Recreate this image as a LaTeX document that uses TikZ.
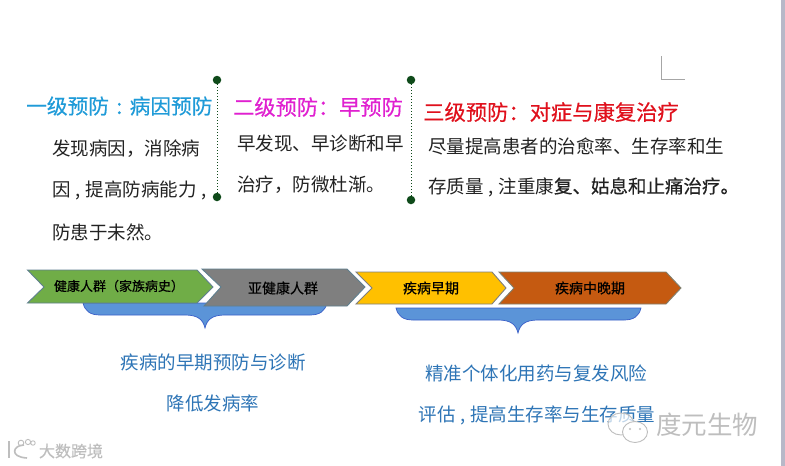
\documentclass[tikz,border=0pt]{standalone}
\usepackage{fontspec}
\setmainfont{Noto Sans CJK SC}
\newfontfamily\hf[FakeBold=0.45]{Noto Sans CJK SC}
\newcommand{\nc}{\makebox[.8em]{,}}
\newcommand{\ncolon}{\makebox[1em]{:}}
\definecolor{hblue}{HTML}{1F9BD8}
\definecolor{hmag}{HTML}{E020D0}
\definecolor{hred}{HTML}{E0101C}
\definecolor{bodyk}{HTML}{222222}
\definecolor{lblue}{HTML}{2E75B6}
\definecolor{dotg}{HTML}{0F4A1A}
\definecolor{brfill}{HTML}{5B94D8}
\definecolor{brline}{HTML}{3A5FC8}
\definecolor{wm}{HTML}{BEBEBE}
\definecolor{sidebar}{HTML}{B8B8C8}
\definecolor{cgreen}{HTML}{70AD47}
\definecolor{cgray}{HTML}{7F7F7F}
\definecolor{cyellow}{HTML}{FFC000}
\definecolor{cbrown}{HTML}{C55A11}
\definecolor{cedge}{HTML}{5F7F8F}
\definecolor{cedgeb}{HTML}{808070}
\tikzset{
 txt/.style={inner sep=0pt,anchor=west,text=bodyk,font=\fontsize{18.5}{20}\selectfont},
 head/.style={inner sep=0pt,anchor=west},
 bluetxt/.style={inner sep=0pt,text=lblue,font=\fontsize{18.5}{20}\selectfont},
 chev/.style={line width=.9pt,line join=miter},
 chevlab/.style={inner sep=0pt,text=black},
 pin/.style={circle,fill=dotg,inner sep=0pt,minimum size=8.5pt},
 dotline/.style={draw=dotg,line width=1pt,dotted},
 brace/.style={fill=brfill,draw=brline,line width=.7pt},
}
\begin{document}
\begin{tikzpicture}[x=1pt,y=-1pt]
\useasboundingbox (0,0) rectangle (785,466);
\fill[white] (0,0) rectangle (785,466);
\fill[sidebar] (781,0) rectangle (785,466);
% crop mark
\draw[gray!70,line width=.8pt] (661.5,56) -- (661.5,79.5) -- (685,79.5);
% pins and dotted rules
\node[pin] (p1) at (217,80) {};
\node[pin] (p2) at (217,197) {};
\node[pin] (p3) at (411,80) {};
\node[pin] (p4) at (411,200) {};
\draw[dotline] (p1) -- (p2);
\draw[dotline] (p3) -- (p4);
% headings
\node[head,text=hblue,font=\fontsize{20.7}{22}\selectfont\hf] (h1) at (26,106) {一级预防\ncolon 病因预防};
\node[head,text=hmag,font=\fontsize{21.2}{22}\selectfont\hf] (h2) at (233,107) {二级预防：早预防};
\node[head,text=hred,font=\fontsize{21.3}{22}\selectfont\hf] (h3) at (423,112) {三级预防：对症与康复治疗};
% body text
\node[txt] (a1) at (52,149) {发现病因，消除病};
\node[txt] (a2) at (52,190) {因\nc 提高防病能力\nc};
\node[txt] (a3) at (52,232) {防患于未然。};
\node[txt] (b1) at (237,143) {早发现、早诊断和早};
\node[txt] (b2) at (237,185) {治疗，防微杜渐。};
\node[txt] (c1) at (428,146) {尽量提高患者的治愈率、生存率和生};
\node[txt] (c2) at (428,187) {存质量\nc 注重康{\hf 复、姑息和止痛治疗。}};
% braces
\path[brace] (83,303) .. controls (85,311) and (90,315) .. (100,315) -- (185,315)
  .. controls (197,315) and (203,319) .. (205,328)
  .. controls (207,319) and (213,315) .. (225,315) -- (310,315)
  .. controls (320,315) and (325,311) .. (327,303) -- cycle;
\path[brace] (396,308) .. controls (398,316) and (403,320) .. (413,320) -- (498,320)
  .. controls (510,320) and (516,324) .. (518,333)
  .. controls (520,324) and (526,320) .. (538,320) -- (624,320)
  .. controls (634,320) and (639,316) .. (641,308) -- cycle;
% chevrons
\draw[chev,fill=cgreen,draw=cedge] (27.5,270) -- (197,270) -- (213,287) -- (197,303) -- (27.5,303) -- (44,287) -- cycle;
\draw[chev,fill=cgray,draw=cedge] (202,269) -- (347,269) -- (365,287) -- (347,306) -- (204,306) -- (221,287) -- cycle;
\draw[chev,fill=cyellow,draw=cgray] (356,272) -- (492,272) -- (506,288) -- (492,304) -- (356,304) -- (372,288) -- cycle;
\draw[chev,fill=cbrown,draw=cedgeb] (499,272) -- (666,272) -- (681,288) -- (666,304) -- (499,304) -- (514,288) -- cycle;
\node[chevlab,font=\fontsize{13}{14}\selectfont\hf] (l1) at (119,286) {健康人群（家族病史）};
\node[chevlab,font=\fontsize{14}{15}\selectfont\hf] (l2) at (283,288) {亚健康人群};
\node[chevlab,font=\fontsize{14}{15}\selectfont\hf] (l3) at (431,288) {疾病早期};
\node[chevlab,font=\fontsize{14}{15}\selectfont\hf] (l4) at (590,288) {疾病中晚期};
% blue captions
\node[bluetxt] (d1) at (213,362) {疾病的早期预防与诊断};
\node[bluetxt] (d2) at (213,403) {降低发病率};
\node[bluetxt] (e1) at (536,373) {精准个体化用药与复发风险};
\node[bluetxt] (e2) at (537,415) {评估\nc 提高生存率与生存质量};
% watermark right
\begin{scope}[draw=wm,line width=.9pt]
\draw[fill=white,fill opacity=.7] (621,424) ellipse (13pt and 11pt);
\draw[fill=white] (635,432) ellipse (12.5pt and 10.5pt);
\fill[wm] (630,429) circle (1.2pt) (640,429) circle (1.2pt);
\end{scope}
\node[inner sep=0pt,text=wm,font=\fontsize{25.5}{27}\selectfont] (w1) at (707,425) {度元生物};
% watermark left
\draw[wm,line width=1.6pt] (9,441) -- (9,458);
\draw[wm,line width=1.6pt] (24,445) .. controls (13,445) and (9,457) .. (27,458);
\draw[wm,line width=.9pt] (21,443) circle (2.8pt) (28,442) circle (2.6pt) (33,443) circle (2.2pt);
\node[inner sep=0pt,text=wm,font=\fontsize{16}{18}\selectfont\hf] (w2) at (71,451) {大数跨境};
\end{tikzpicture}
\end{document}
